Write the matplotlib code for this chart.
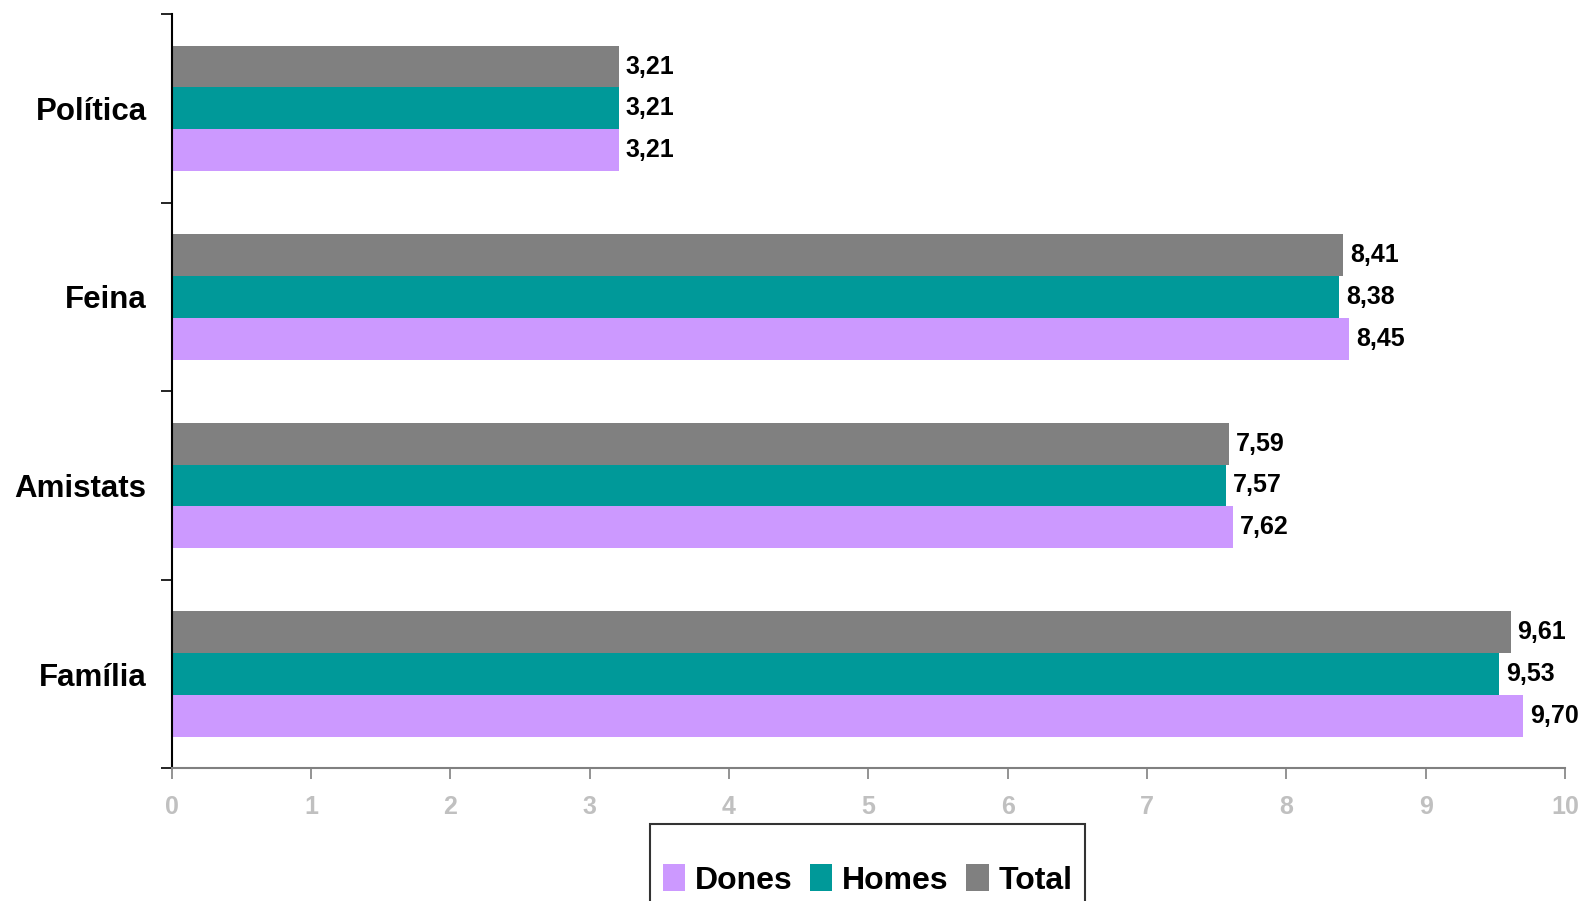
import matplotlib.pyplot as plt
import numpy as np

# dades
categories = ['Família', 'Amistats', 'Feina', 'Política']
dones = [9.70, 7.62, 8.45, 3.21]
homes = [9.53, 7.57, 8.38, 3.21]
total = [9.61, 7.59, 8.41, 3.21]

plt.rcParams['font.family'] = ['Liberation Sans', 'DejaVu Sans']
plt.rcParams['font.weight'] = 'bold'

fig = plt.figure(figsize=(15.83, 9.01), dpi=100)
ax = fig.add_axes([0.1084, 0.1473, 0.8802, 0.837])

y = np.arange(len(categories))
h = 0.222
series = [(dones, -h, '#CC99FF', 'Dones'),
          (homes, 0, '#009999', 'Homes'),
          (total, h, '#808080', 'Total')]
for vals, off, col, lab in series:
    bars = ax.barh(y + off, vals, height=h, color=col, label=lab)
    for b, v in zip(bars, vals):
        ax.text(v + 0.05, b.get_y() + b.get_height() / 2,
                ('%.2f' % v).replace('.', ','), va='center', ha='left',
                fontsize=18, fontweight='bold', clip_on=False)

ax.set_xlim(0, 10)
ax.set_ylim(-0.5, 3.5)
ax.set_xticks(range(11))
ax.set_yticks(y)
ax.set_yticklabels(categories, fontsize=22.5, fontweight='bold')
ax.set_yticks(np.arange(-0.5, 4, 1), minor=True)
ax.tick_params(axis='y', which='major', length=0, pad=18)
ax.tick_params(axis='y', which='minor', length=8, width=1.2, color='black')
ax.tick_params(axis='x', length=8, width=1.2, color='#808080',
               labelcolor='#C0C0C0', labelsize=18, pad=11)
for t in ax.get_xticklabels():
    t.set_fontweight('bold')

ax.spines['top'].set_visible(False)
ax.spines['right'].set_visible(False)
ax.spines['left'].set_color('black')
ax.spines['left'].set_linewidth(1.5)
ax.spines['bottom'].set_color('#808080')
ax.spines['bottom'].set_linewidth(1.5)

# llegenda (el marc queda tallat per sota, com a l'original)
leg = fig.legend(loc='upper center', bbox_to_anchor=(0.548, 0.086),
                 ncol=3, fontsize=23, frameon=True, fancybox=False,
                 edgecolor='black', handlelength=0.7, handleheight=0.9,
                 handletextpad=0.3, columnspacing=0.55, borderpad=0.4,
                 borderaxespad=0, title=' ', title_fontsize=9)
leg.get_frame().set_linewidth(1.5)
for t in leg.get_texts():
    t.set_fontweight('bold')

plt.savefig('out.png', dpi=100)
